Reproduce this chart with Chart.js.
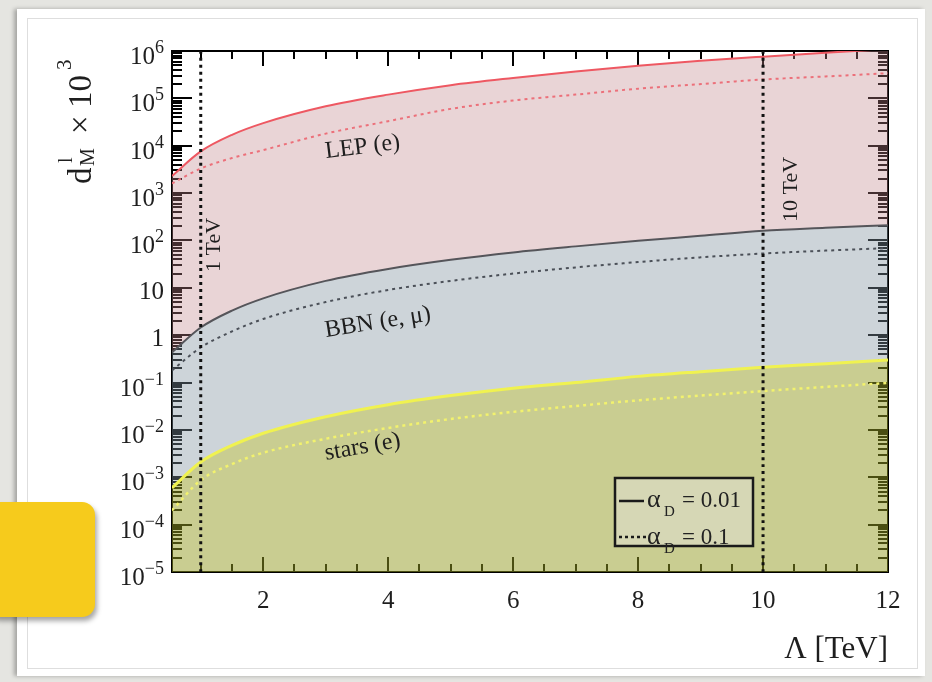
<!DOCTYPE html>
<html>
<head>
<meta charset="utf-8">
<script src="https://cdn.jsdelivr.net/npm/chart.js@4/dist/chart.umd.min.js"></script>
<style>
  html, body { margin:0; padding:0; }
  body { width:932px; height:682px; overflow:hidden; position:relative; background:rgb(229,229,225); }
  .card { position:absolute; left:17px; top:9px; width:908px; height:667px; background:#fff; box-shadow:-3px 0 4px rgba(0,0,0,0.28); }
  .frame { position:absolute; left:27px; top:18px; width:889px; height:649px; border:1px solid #dedede; }
  canvas { position:absolute; left:0; top:0; }
  .tab { position:absolute; left:-14px; top:502px; width:109px; height:115px; border-radius:13px; background:rgb(246,203,28); box-shadow:2px 4px 5px rgba(0,0,0,0.35); }
</style>
</head>
<body>
<div class="card"></div>
<div class="frame"></div>
<canvas id="c" width="932" height="682"></canvas>
<div class="tab"></div>
<script>
// ---- data ----
const lambdaTeV   = [0.54, 1, 1.5, 2, 3, 4, 5, 6, 7, 8, 9, 10, 11, 12];
const lepSolid    = [2300, 7600, 17000, 30000, 68000, 120000, 190000, 270000, 370000, 490000, 620000, 760000, 920000, 1100000];
const lepDotted   = [1600, 3300, 5500, 8100, 18000, 33000, 60000, 90000, 120000, 160000, 200000, 250000, 290000, 340000];
const bbnSolid    = [0.43, 1.45, 3.3, 6.0, 14, 25, 39, 56, 75, 98, 125, 160, 185, 210];
const bbnDotted   = [0.18, 0.55, 1.2, 2.2, 5.0, 9.0, 14, 20, 27, 35, 44, 53, 61, 69];
const starsSolid  = [6e-4, 2.1e-3, 4.7e-3, 8.5e-3, 0.019, 0.034, 0.053, 0.076, 0.10, 0.135, 0.17, 0.21, 0.25, 0.30];
const starsDotted = [2e-4, 8.7e-4, 1.9e-3, 3.3e-3, 6.5e-3, 0.011, 0.017, 0.024, 0.032, 0.042, 0.053, 0.066, 0.081, 0.098];
const markerTeV   = [1, 10];
const markerLabels = ['1 TeV', '10 TeV'];
const xTickValues = [2, 4, 6, 8, 10, 12];
const yTickValues = [1e-5, 1e-4, 1e-3, 1e-2, 1e-1, 1, 10, 1e2, 1e3, 1e4, 1e5, 1e6];
const yTickBase   = ['10', '10', '10', '10', '10', '1', '10', '10', '10', '10', '10', '10'];
const yTickExp    = ['−5', '−4', '−3', '−2', '−1', '', '', '2', '3', '4', '5', '6'];
const regionLabels = ['LEP (e)', 'BBN (e, μ)', 'stars (e)'];
const legendLabels = ['0.01', '0.1'];

const pts = arr => lambdaTeV.map((x, i) => ({x: x, y: arr[i]}));
const vline = v => [{x: v, y: 1e-5}, {x: v, y: 1e6}];

const SERIF = '"Liberation Serif", "DejaVu Serif", serif';

const framePlugin = {
  id: 'frameTicks',
  beforeDraw(chart) {
    const {ctx, chartArea: a, scales: {x, y}} = chart;
    ctx.save();
    ctx.strokeStyle = '#000';
    ctx.lineWidth = 2;
    ctx.strokeRect(a.left, a.top, a.right - a.left, a.bottom - a.top);
    ctx.lineWidth = 2;
    ctx.beginPath();
    for (let v = 0.5; v <= 12.001; v += 0.5) {
      if (v < x.min || v > x.max) continue;
      const px = Math.round(x.getPixelForValue(v));
      const L = (Math.abs(v % 2) < 1e-6) ? 15 : 8;
      ctx.moveTo(px, a.bottom); ctx.lineTo(px, a.bottom - L);
      ctx.moveTo(px, a.top); ctx.lineTo(px, a.top + L);
    }
    for (let e = -5; e <= 6; e++) {
      for (let k = 1; k <= 9; k++) {
        const v = k * Math.pow(10, e);
        if (v > 1e6 * 1.0001) continue;
        const py = Math.round(y.getPixelForValue(v));
        const L = k === 1 ? 20 : 10;
        ctx.moveTo(a.left, py); ctx.lineTo(a.left + L, py);
        ctx.moveTo(a.right, py); ctx.lineTo(a.right - L, py);
      }
    }
    ctx.stroke();
    ctx.restore();
  },
  afterDraw(chart) {
    const {ctx, chartArea: a, scales: {x, y}} = chart;
    ctx.save();
    ctx.fillStyle = '#1e1e1e';
    ctx.textBaseline = 'alphabetic';
    // x tick labels
    ctx.font = '25px ' + SERIF;
    ctx.textAlign = 'center';
    xTickValues.forEach(v => ctx.fillText(String(v), x.getPixelForValue(v), 608));
    // y tick labels
    ctx.textAlign = 'left';
    yTickValues.forEach((v, i) => {
      const py = y.getPixelForValue(v);
      const rightX = 164;
      const exp = yTickExp[i];
      if (exp) {
        ctx.font = '18px ' + SERIF;
        const we = ctx.measureText(exp).width;
        ctx.font = '25px ' + SERIF;
        const wb = ctx.measureText(yTickBase[i]).width;
        const x0 = rightX - we - wb;
        ctx.fillText(yTickBase[i], x0, py + 13);
        ctx.font = '18px ' + SERIF;
        ctx.fillText(exp, x0 + wb, py + 2);
      } else {
        ctx.font = '25px ' + SERIF;
        const wb = ctx.measureText(yTickBase[i]).width;
        ctx.fillText(yTickBase[i], rightX - wb, py + 11);
      }
    });
    // x axis title
    ctx.font = '31px ' + SERIF;
    ctx.textAlign = 'right';
    ctx.fillText('Λ [TeV]', a.right, 658);
    ctx.textAlign = 'left';
    // y axis title (rotated)
    ctx.save();
    ctx.translate(91, 184);
    ctx.rotate(-Math.PI / 2);
    ctx.font = '33px ' + SERIF;
    ctx.fillText('d', 0, 0);
    ctx.font = '20px ' + SERIF;
    ctx.fillText('l', 21, -19);
    ctx.fillText('M', 18, 3);
    ctx.font = '33px ' + SERIF;
    ctx.fillText('×', 50, 0);
    ctx.fillText('10', 76, 0);
    ctx.font = '21px ' + SERIF;
    ctx.fillText('3', 114, -20);
    ctx.restore();
    // marker labels
    ctx.font = '22px ' + SERIF;
    const mlab = [[19, 272], [34, 222]];
    markerTeV.forEach((v, i) => {
      ctx.save();
      ctx.translate(x.getPixelForValue(v) + mlab[i][0], mlab[i][1]);
      ctx.rotate(-Math.PI / 2);
      ctx.fillText(markerLabels[i], 0, 0);
      ctx.restore();
    });
    // region labels
    ctx.font = '24px ' + SERIF;
    const rl = [[326, 158, -7], [326, 337, -9], [326, 460, -10]];
    regionLabels.forEach((t, i) => {
      ctx.save();
      ctx.translate(rl[i][0], rl[i][1]);
      ctx.rotate(rl[i][2] * Math.PI / 180);
      ctx.fillText(t, 0, 0);
      ctx.restore();
    });
    // legend box
    ctx.fillStyle = 'rgb(214,215,181)';
    ctx.fillRect(615, 478, 138, 68);
    ctx.strokeStyle = '#1a1a1a';
    ctx.lineWidth = 2.5;
    ctx.strokeRect(615, 478, 138, 68);
    ctx.beginPath(); ctx.moveTo(619, 501); ctx.lineTo(644, 501); ctx.stroke();
    ctx.setLineDash([3, 3]);
    ctx.beginPath(); ctx.moveTo(619, 537); ctx.lineTo(646, 537); ctx.stroke();
    ctx.setLineDash([]);
    ctx.fillStyle = '#222';
    legendLabels.forEach((t, i) => {
      const by = 507 + i * 37;
      ctx.font = '26px ' + SERIF;
      ctx.fillText('α', 647, by);
      ctx.font = '15px ' + SERIF;
      ctx.fillText('D', 664, by + 9);
      ctx.font = '23px ' + SERIF;
      ctx.fillText('= ' + t, 682, by);
    });
    ctx.restore();
  }
};

new Chart(document.getElementById('c'), {
  type: 'line',
  data: {
    datasets: [
      {data: pts(lepSolid), borderColor: 'rgb(238,88,98)', borderWidth: 2, backgroundColor: 'rgba(192,132,138,0.35)', fill: 1, order: 3},
      {data: pts(bbnSolid), borderColor: 'rgb(85,85,90)', borderWidth: 2, backgroundColor: 'rgba(130,147,160,0.40)', fill: 2, order: 3},
      {data: pts(starsSolid), borderColor: 'rgb(240,242,80)', borderWidth: 3, backgroundColor: 'rgba(147,155,35,0.50)', fill: 'start', order: 3},
      {data: pts(lepDotted), borderColor: 'rgb(236,112,122)', borderWidth: 2, borderDash: [3, 4], fill: false, order: 2},
      {data: pts(bbnDotted), borderColor: 'rgb(75,80,88)', borderWidth: 2, borderDash: [3, 4], fill: false, order: 2},
      {data: pts(starsDotted), borderColor: 'rgb(242,242,110)', borderWidth: 2.5, borderDash: [3, 4], fill: false, order: 2},
      {data: vline(markerTeV[0]), borderColor: '#111', borderWidth: 3, borderDash: [3, 4], fill: false, order: 1},
      {data: vline(markerTeV[1]), borderColor: '#111', borderWidth: 3, borderDash: [3, 4], fill: false, order: 1}
    ]
  },
  options: {
    responsive: false,
    animation: false,
    devicePixelRatio: 1,
    layout: {padding: {left: 172, top: 51, right: 44, bottom: 110}},
    elements: {point: {radius: 0, hoverRadius: 0}, line: {cubicInterpolationMode: 'monotone'}},
    scales: {
      x: {type: 'linear', min: 0.54, max: 12, display: false},
      y: {type: 'logarithmic', min: 1e-5, max: 1e6, display: false}
    },
    plugins: {
      legend: {display: false},
      tooltip: {enabled: false},
      filler: {drawTime: 'beforeDatasetsDraw'}
    }
  },
  plugins: [framePlugin]
});
</script>
</body>
</html>
